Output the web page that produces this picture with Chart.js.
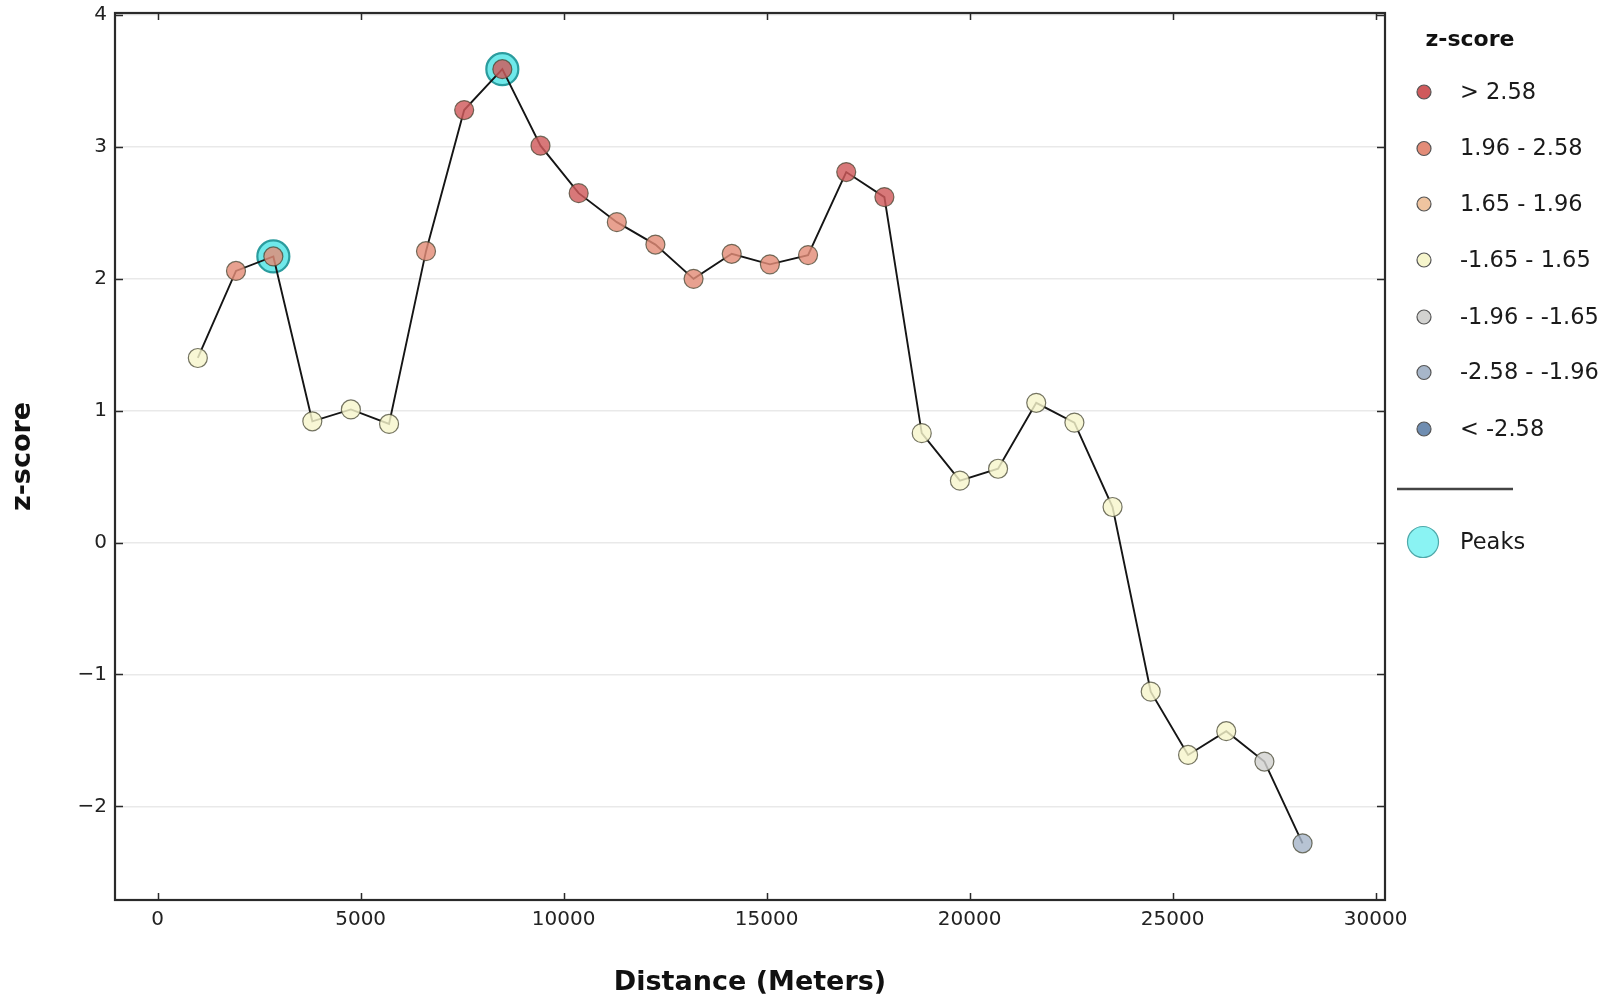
<!DOCTYPE html>
<html>
<head>
<meta charset="utf-8">
<title>z-score profile</title>
<script src="https://cdn.jsdelivr.net/npm/chart.js@4.4.1/dist/chart.umd.min.js"></script>
<style>
  html, body { margin: 0; padding: 0; background: #fff; }
  #chart { display: block; }
</style>
</head>
<body>
<canvas id="chart" width="1618" height="1001"></canvas>
<script>
// distance along the profile (m) and the z-score at each sample
const distance = [990, 1930, 2850, 3810, 4760, 5700, 6610, 7550, 8490, 9430,
  10370, 11310, 12260, 13200, 14140, 15080, 16020, 16960, 17900, 18820,
  19760, 20700, 21640, 22580, 23520, 24460, 25380, 26320, 27260, 28200];
const zscore = [1.40, 2.06, 2.17, 0.92, 1.01, 0.90, 2.21, 3.28, 3.59, 3.01,
  2.65, 2.43, 2.26, 2.00, 2.19, 2.11, 2.18, 2.81, 2.62, 0.83,
  0.47, 0.56, 1.06, 0.91, 0.27, -1.13, -1.61, -1.43, -1.66, -2.28];

// detected peaks
const peakDistance = [2850, 8490];
const peakZ = [2.17, 3.59];

const xTicks = [0, 5000, 10000, 15000, 20000, 25000, 30000];
const yTicks = [-2, -1, 0, 1, 2, 3, 4];

// legend classes
const classLabels = ['> 2.58', '1.96 - 2.58', '1.65 - 1.96', '-1.65 - 1.65', '-1.96 - -1.65', '-2.58 - -1.96', '< -2.58'];
const classColors = ['#cf5a5c', '#e38c78', '#efc4a0', '#f6f5cc', '#d2d2d0', '#a7b6c9', '#6f8db1'];

function classOf(z) {
  if (z > 2.58) return 0;
  if (z > 1.96) return 1;
  if (z > 1.65) return 2;
  if (z >= -1.65) return 3;
  if (z >= -1.96) return 4;
  if (z >= -2.58) return 5;
  return 6;
}

function withAlpha(hex, a) {
  const n = parseInt(hex.slice(1), 16);
  return 'rgba(' + (n >> 16) + ',' + ((n >> 8) & 255) + ',' + (n & 255) + ',' + a + ')';
}

const FONT = 'DejaVu Sans, Verdana, sans-serif';

// matplotlib-like frame with inward ticks, plus the custom legend
const framePlugin = {
  id: 'frame',
  beforeDraw(chart) {
    const ctx = chart.ctx;
    ctx.save();
    ctx.fillStyle = '#fff';
    ctx.fillRect(0, 0, chart.width, chart.height);
    ctx.restore();
  },
  afterDraw(chart) {
    const ctx = chart.ctx;
    const a = chart.chartArea;
    const xs = chart.scales.x, ys = chart.scales.y;
    ctx.save();
    ctx.strokeStyle = '#2a2a2a';
    ctx.lineWidth = 1.5;
    ctx.beginPath();
    xTicks.forEach(v => {
      const px = Math.round(xs.getPixelForValue(v)) + 0.5;
      ctx.moveTo(px, a.bottom); ctx.lineTo(px, a.bottom - 7);
      ctx.moveTo(px, a.top); ctx.lineTo(px, a.top + 7);
    });
    yTicks.forEach(v => {
      const py = Math.round(ys.getPixelForValue(v)) + 0.5;
      ctx.moveTo(a.left, py); ctx.lineTo(a.left + 8, py);
      ctx.moveTo(a.right, py); ctx.lineTo(a.right - 8, py);
    });
    ctx.stroke();
    ctx.lineWidth = 2.2;
    ctx.strokeRect(a.left, a.top, a.right - a.left, a.bottom - a.top);

    // legend
    ctx.fillStyle = '#111';
    ctx.font = 'bold 22px ' + FONT;
    ctx.textAlign = 'center';
    ctx.textBaseline = 'middle';
    ctx.fillText('z-score', 1470, 40);
    ctx.textAlign = 'left';
    ctx.font = '22.5px ' + FONT;
    const rows = [92, 148.5, 204, 260, 317, 372.5, 429];
    classLabels.forEach((lab, i) => {
      ctx.beginPath();
      ctx.arc(1424, rows[i], 7, 0, Math.PI * 2);
      ctx.fillStyle = classColors[i];
      ctx.fill();
      ctx.lineWidth = 1.2;
      ctx.strokeStyle = '#555';
      ctx.stroke();
      ctx.fillStyle = '#1a1a1a';
      ctx.fillText(lab, 1460, rows[i] + 1);
    });
    ctx.beginPath();
    ctx.moveTo(1397, 489); ctx.lineTo(1513, 489);
    ctx.lineWidth = 2.5;
    ctx.strokeStyle = '#444';
    ctx.stroke();
    ctx.beginPath();
    ctx.arc(1423, 542, 15.5, 0, Math.PI * 2);
    ctx.fillStyle = '#8af3f3';
    ctx.fill();
    ctx.lineWidth = 1.2;
    ctx.strokeStyle = '#4fa9aa';
    ctx.stroke();
    ctx.fillStyle = '#1a1a1a';
    ctx.fillText('Peaks', 1460, 543);
    ctx.restore();
  }
};

const points = distance.map((d, i) => ({ x: d, y: zscore[i] }));
const peaks = peakDistance.map((d, i) => ({ x: d, y: peakZ[i] }));

new Chart(document.getElementById('chart'), {
  type: 'line',
  data: {
    datasets: [
      {
        label: 'z-score',
        data: points,
        order: 0,
        borderColor: '#151515',
        borderWidth: 1.9,
        tension: 0,
        pointRadius: 9.5,
        pointBorderWidth: 1.2,
        pointBorderColor: 'rgba(70,70,50,0.75)',
        pointBackgroundColor: points.map(p => withAlpha(classColors[classOf(p.y)], 0.82)),
      },
      {
        label: 'Peaks',
        data: peaks,
        order: 1,
        showLine: false,
        pointRadius: 16,
        pointBorderWidth: 2.2,
        pointBackgroundColor: '#6fe9ea',
        pointBorderColor: '#2b9c9e',
      }
    ]
  },
  options: {
    responsive: false,
    animation: false,
    layout: { padding: { left: 0, top: 13, right: 233, bottom: 0 }, autoPadding: false },
    plugins: { legend: { display: false }, tooltip: { enabled: false } },
    scales: {
      x: {
        type: 'linear',
        min: -1050,
        max: 30230,
        afterFit(s) { s.height = 101; s.paddingLeft = 0; s.paddingRight = 0; },
        afterBuildTicks(s) { s.ticks = xTicks.map(v => ({ value: v })); },
        grid: { display: false, drawTicks: false },
        border: { display: false },
        ticks: {
          includeBounds: false,
          autoSkip: false,
          maxRotation: 0,
          padding: 8,
          color: '#222',
          font: { family: FONT, size: 20 },
          callback: v => String(v)
        },
        title: {
          display: true,
          text: 'Distance (Meters)',
          color: '#111',
          font: { family: FONT, size: 27, weight: 'bold' },
          padding: { top: 0, bottom: 2 }
        }
      },
      y: {
        type: 'linear',
        min: -2.71,
        max: 4.016,
        afterFit(s) { s.width = 115; s.paddingTop = 0; s.paddingBottom = 0; },
        afterBuildTicks(s) { s.ticks = yTicks.map(v => ({ value: v })); },
        grid: { color: '#e9e9e9', lineWidth: 1.6, drawTicks: false },
        border: { display: false },
        ticks: {
          includeBounds: false,
          autoSkip: false,
          padding: 8,
          color: '#222',
          font: { family: FONT, size: 20 },
          callback: v => (v < 0 ? '\u2212' + Math.abs(v) : String(v))
        },
        title: {
          display: true,
          text: 'z-score',
          color: '#111',
          font: { family: FONT, size: 27, weight: 'bold' },
          padding: { top: 7, bottom: 0 }
        }
      }
    }
  },
  plugins: [framePlugin]
});
</script>
</body>
</html>
